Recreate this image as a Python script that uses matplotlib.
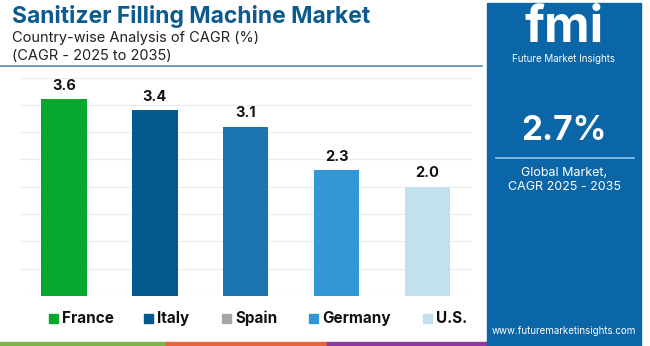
import matplotlib
matplotlib.use("Agg")
import matplotlib.pyplot as plt
from matplotlib.patches import Rectangle
import numpy as np

plt.rcParams['font.family'] = ['Inter', 'DejaVu Sans']

countries = ["France", "Italy", "Spain", "Germany", "U.S."]
cagr = [3.6, 3.4, 3.1, 2.3, 2.0]
bar_colors = ["#07a82e", "#03588d", "#1a74b0", "#3396d5", "#c3e0f1"]
legend_colors = ["#07a82e", "#03588d", "#a6a6a6", "#3396d5", "#c3e0f1"]
global_cagr = "2.7%"

fig = plt.figure(figsize=(6.5, 3.46), dpi=100)
W, H = 650, 346

def fx(px):
    return px / W

def fy(py):
    return 1 - py / H

# title block
fig.text(fx(12), fy(17), "Sanitizer Filling Machine Market", fontsize=16.5,
         fontweight="bold", color="#0c5a8e", va="center", ha="left")
fig.text(fx(12), fy(38), "Country-wise Analysis of CAGR (%)", fontsize=10.5,
         color="#222222", va="center", ha="left")
fig.text(fx(12), fy(56), "(CAGR - 2025 to 2035)", fontsize=10.5,
         color="#222222", va="center", ha="left")
fig.add_artist(plt.Line2D([0, fx(482)], [fy(66), fy(66)], color="#5b87a8", lw=1.2))

# bar chart
ax = fig.add_axes([fx(20), fy(296), fx(472) - fx(20), fy(77.5) - fy(296)])
x = np.arange(len(countries))
bars = ax.bar(x, cagr, width=0.5, color=bar_colors, zorder=3)
for xi, v in zip(x, cagr):
    ax.text(xi, v + 0.12, f"{v:.1f}", ha="center", va="bottom", fontsize=10.5,
            fontweight="bold", color="#111111")
ax.set_xlim(-0.484, 4.49)
ax.set_ylim(0, 4.0)
ax.set_yticks(np.arange(0, 4.01, 0.5))
ax.grid(axis="y", color="#ececec", lw=0.8, zorder=0)
ax.set_xticks([])
ax.tick_params(left=False, labelleft=False)
for s in ax.spines.values():
    s.set_visible(False)

# legend
leg_x = [49, 144, 222, 309, 423]
for px, name, c in zip(leg_x, countries, legend_colors):
    fig.add_artist(Rectangle((fx(px), fy(323)), fx(9), 9 / H, color=c))
    fig.text(fx(px + 13), fy(318.5), name, fontsize=11, fontweight="bold",
             color="#111111", va="center", ha="left")

# bottom stripe
for x0, x1, c in [(0, 166, "#7cb544"), (166, 327, "#e6653c"), (327, 490, "#8c3a9c")]:
    fig.add_artist(Rectangle((fx(x0), 0), fx(x1 - x0), 4 / H, color=c))

# right panel
fig.add_artist(Rectangle((fx(487), 0), fx(641 - 487), fy(3), color="#0a66a6"))
cx = fx(564)
fig.text(cx, fy(28), "fmi", fontsize=36, fontweight="bold", color="white",
         ha="center", va="center")
fig.text(cx, fy(59), "Future Market Insights", fontsize=7, color="white",
         ha="center", va="center")
fig.text(cx, fy(131), global_cagr, fontsize=24, fontweight="bold", color="white",
         ha="center", va="center")
fig.add_artist(plt.Line2D([fx(496), fx(634)], [fy(158), fy(158)], color="#8ec8ee", lw=1.2))
fig.text(cx, fy(173), "Global Market,", fontsize=9, color="white",
         ha="center", va="center")
fig.text(cx, fy(187), "CAGR 2025 - 2035", fontsize=9, color="white",
         ha="center", va="center")
fig.text(cx, fy(331), "www.futuremarketinsights.com", fontsize=7, color="white",
         ha="center", va="center")

fig.savefig("out.png", dpi=100)
